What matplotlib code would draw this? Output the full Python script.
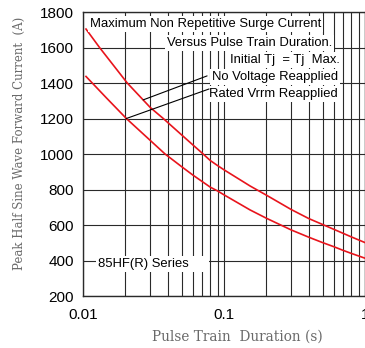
import matplotlib.pyplot as plt
import numpy as np
from matplotlib.ticker import LogLocator, NullFormatter

# Pulse train duration (s) vs peak surge current (A)
t_no_volt = [0.0105, 0.0131, 0.0206, 0.03, 0.0371, 0.05, 0.06, 0.07,
             0.08, 0.09, 0.1, 0.153, 0.2, 0.3, 0.4, 0.5, 0.6, 0.7, 0.8, 1.0]
i_no_volt = [1704, 1600, 1400, 1262, 1200, 1108, 1052, 1005,
             963, 935, 911, 820, 768, 687, 636, 603, 576, 553, 533, 501]

t_rated = [0.0105, 0.0147, 0.0173, 0.0203, 0.0382, 0.05, 0.06, 0.07, 0.08,
           0.09, 0.1, 0.153, 0.2, 0.3, 0.4, 0.5, 0.6, 0.7, 0.8, 1.0]
i_rated = [1437, 1315, 1257, 1200, 1000, 929, 882, 845, 813,
           792, 770, 685, 638, 572, 531, 501, 478, 457, 440, 413]

x_ticks = [0.01, 0.1, 1]
x_tick_labels = ["0.01", "0.1", "1"]
y_ticks = list(range(200, 1801, 200))

RED = "#e8141c"
GRID = "#2a2a2a"
LABEL_GREY = "#6a6a6a"

fig = plt.figure(figsize=(3.65, 3.48), dpi=100)
ax = fig.add_axes([0.2274, 0.1494, 0.7726, 0.8161])

ax.set_xscale("log")
ax.set_xlim(0.01, 1)
ax.set_ylim(200, 1800)
ax.set_xticks(x_ticks)
ax.set_xticklabels(x_tick_labels)
ax.xaxis.set_minor_locator(LogLocator(base=10, subs=range(2, 10)))
ax.xaxis.set_minor_formatter(NullFormatter())
ax.set_yticks(y_ticks)

ax.grid(True, which="both", color=GRID, lw=0.8, zorder=0)
ax.set_axisbelow(True)
for sp in ax.spines.values():
    sp.set_color(GRID)
    sp.set_linewidth(1.0)

ax.tick_params(which="both", length=0)
ax.tick_params(axis="y", labelsize=11, pad=6.5)
ax.tick_params(axis="x", labelsize=11, pad=8.5)
for lbl in ax.get_xticklabels() + ax.get_yticklabels():
    lbl.set_fontfamily("Liberation Sans")

ax.plot(t_no_volt, i_no_volt, color=RED, lw=1.2, zorder=3)
ax.plot(t_rated, i_rated, color=RED, lw=1.2, zorder=3)

box = dict(facecolor="white", edgecolor="none", pad=1.5)
txt = dict(transform=ax.transAxes, fontsize=9.4, family="Liberation Sans",
           va="center", ha="left", bbox=box, zorder=4)
ax.text(0.025, 0.958, "Maximum Non Repetitive Surge Current", **txt)
ax.text(0.298, 0.891, "Versus Pulse Train Duration.", **txt)
ax.text(0.521, 0.831, "Initial Tj  = Tj  Max.", **txt)
ax.text(0.457, 0.771, "No Voltage Reapplied", **txt)
ax.text(0.447, 0.711, "Rated Vrrm Reapplied", **txt)
ax.text(0.053, 0.113, "85HF(R) Series     ", **txt)


def on_curve(t, ts, vals):
    return np.interp(np.log10(t), np.log10(ts), vals)


arrow = dict(arrowstyle="-", color="black", lw=0.8, shrinkA=0, shrinkB=0)
ax.annotate("", xy=(0.0267, on_curve(0.0267, t_no_volt, i_no_volt)),
            xytext=(0.44, 0.775), textcoords="axes fraction",
            arrowprops=arrow, zorder=5)
ax.annotate("", xy=(0.0203, on_curve(0.0203, t_rated, i_rated)),
            xytext=(0.447, 0.729), textcoords="axes fraction",
            arrowprops=arrow, zorder=5)

ax.set_xlabel("Pulse Train  Duration (s)", family="DejaVu Serif",
              fontsize=9.8, color=LABEL_GREY, va="center")
ax.xaxis.set_label_coords(0.5 + 13.5 / 282, -41.0 / 284)
ax.set_ylabel("Peak Half Sine Wave Forward Current  (A)", family="DejaVu Serif",
              fontsize=8.5, color=LABEL_GREY, va="center")
ax.yaxis.set_label_coords(-64.0 / 282, 0.539)

fig.savefig("out.png", dpi=100)
